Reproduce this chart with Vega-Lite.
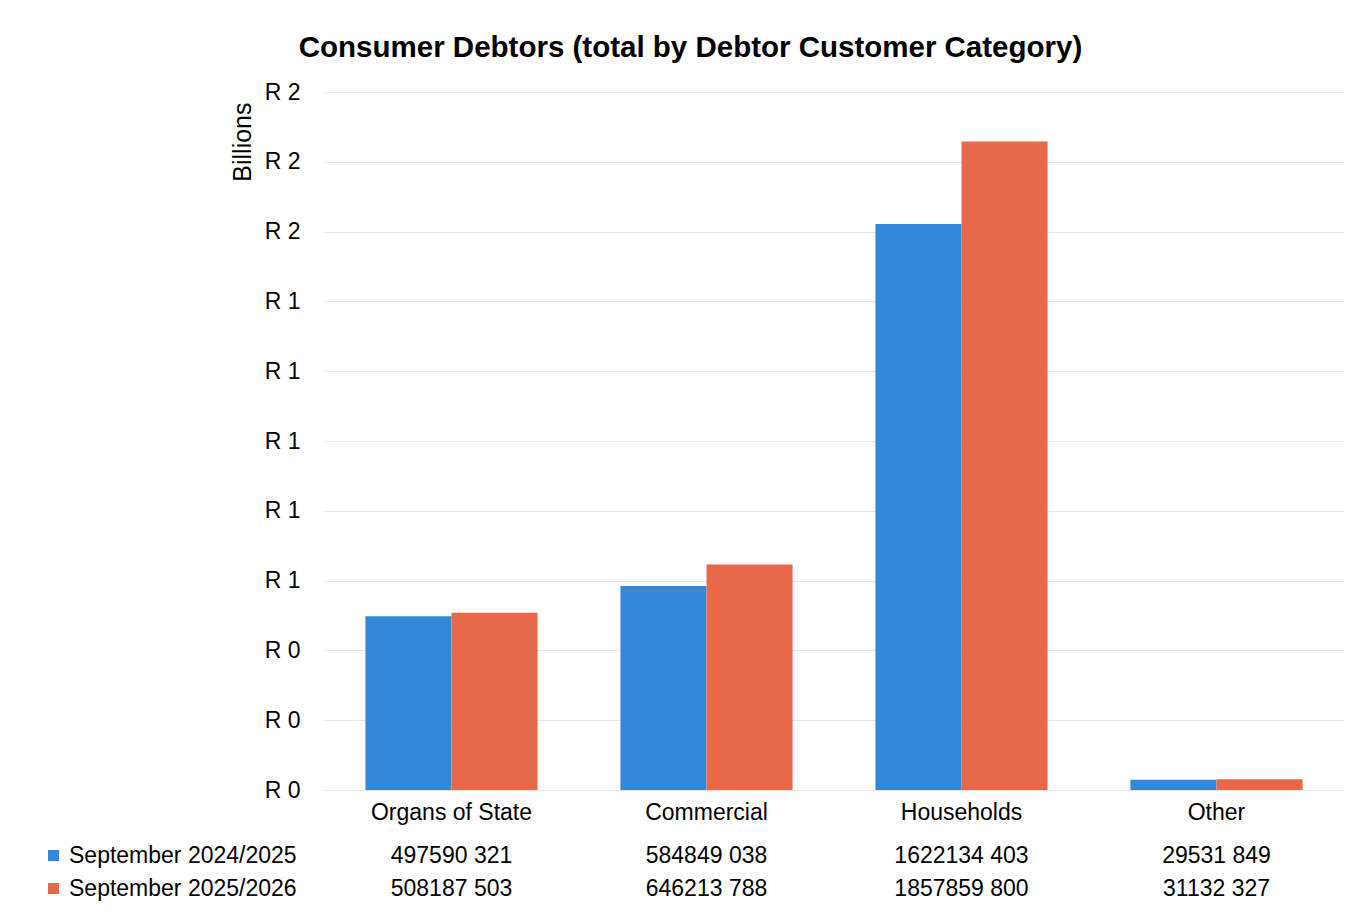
{
  "$schema": "https://vega.github.io/schema/vega-lite/v6.json",
  "background": "white",
  "padding": {"left": 37, "top": 32, "right": 20, "bottom": 10},
  "title": {
    "text": "Consumer Debtors (total by Debtor Customer Category)",
    "font": "Liberation Sans",
    "fontSize": 29.5,
    "fontWeight": "bold",
    "color": "black",
    "anchor": "middle",
    "offset": 18
  },
  "datasets": {
    "debt": [
      {"category": "Organs of State", "series": "September 2024/2025", "value": 497590321, "label": "497590 321"},
      {"category": "Organs of State", "series": "September 2025/2026", "value": 508187503, "label": "508187 503"},
      {"category": "Commercial", "series": "September 2024/2025", "value": 584849038, "label": "584849 038"},
      {"category": "Commercial", "series": "September 2025/2026", "value": 646213788, "label": "646213 788"},
      {"category": "Households", "series": "September 2024/2025", "value": 1622134403, "label": "1622134 403"},
      {"category": "Households", "series": "September 2025/2026", "value": 1857859800, "label": "1857859 800"},
      {"category": "Other", "series": "September 2024/2025", "value": 29531849, "label": "29531 849"},
      {"category": "Other", "series": "September 2025/2026", "value": 31132327, "label": "31132 327"}
    ]
  },
  "spacing": 15,
  "resolve": {"legend": {"color": "independent"}},
  "vconcat": [
    {
      "width": 1020,
      "height": 698,
      "data": {"name": "debt"},
      "mark": {"type": "bar"},
      "encoding": {
        "x": {
          "field": "category",
          "type": "nominal",
          "sort": ["Organs of State", "Commercial", "Households", "Other"],
          "scale": {"paddingInner": 0.325, "paddingOuter": 0.1625},
          "axis": {
            "title": null,
            "labelAngle": 0,
            "labelFontSize": 23,
            "labelPadding": 11,
            "ticks": false,
            "domain": true,
            "domainColor": "#e4e4e4",
            "labelColor": "black"
          }
        },
        "xOffset": {
          "field": "series",
          "type": "nominal",
          "scale": {"paddingInner": 0, "paddingOuter": 0}
        },
        "y": {
          "field": "value",
          "type": "quantitative",
          "scale": {"domain": [0, 2000000000], "nice": false},
          "axis": {
            "values": [0, 200000000, 400000000, 600000000, 800000000, 1000000000, 1200000000, 1400000000, 1600000000, 1800000000, 2000000000],
            "labelExpr": "'R ' + format(datum.value / 1000000000, '.0f')",
            "labelFontSize": 23,
            "labelPadding": 24,
            "labelColor": "black",
            "ticks": false,
            "domain": false,
            "grid": true,
            "gridColor": "#e8e8e8",
            "title": "Billions",
            "titleFontSize": 25,
            "titleFontWeight": "normal",
            "titleColor": "black",
            "titleAnchor": "end",
            "titleY": 10,
            "titlePadding": 9
          }
        },
        "color": {
          "field": "series",
          "type": "nominal",
          "scale": {"range": ["#3388DA", "#E8684A"]},
          "legend": null
        }
      }
    },
    {
      "width": 1020,
      "height": 66,
      "data": {"name": "debt"},
      "encoding": {
        "x": {
          "field": "category",
          "type": "nominal",
          "sort": ["Organs of State", "Commercial", "Households", "Other"],
          "axis": null
        },
        "y": {
          "field": "series",
          "type": "nominal",
          "axis": null,
          "scale": {"paddingInner": 0, "paddingOuter": 0}
        }
      },
      "layer": [
        {
          "mark": {"type": "bar", "opacity": 0},
          "encoding": {
            "color": {
              "field": "series",
              "type": "nominal",
              "scale": {"range": ["#3388DA", "#E8684A"]},
              "legend": {
                "orient": "left",
                "title": null,
                "symbolType": "square",
                "symbolSize": 121,
                "symbolOpacity": 1,
                "symbolStrokeWidth": 0,
                "labelFontSize": 23,
                "labelFont": "Liberation Sans",
                "labelColor": "black",
                "labelLimit": 400,
                "labelOffset": 4,
                "rowPadding": 9,
                "offset": 22,
                "padding": 5
              }
            }
          }
        },
        {
          "mark": {"type": "text", "fontSize": 23, "color": "black", "font": "Liberation Sans"},
          "encoding": {"text": {"field": "label", "type": "nominal"}}
        }
      ]
    }
  ],
  "config": {
    "font": "Liberation Sans",
    "view": {"stroke": null}
  }
}
